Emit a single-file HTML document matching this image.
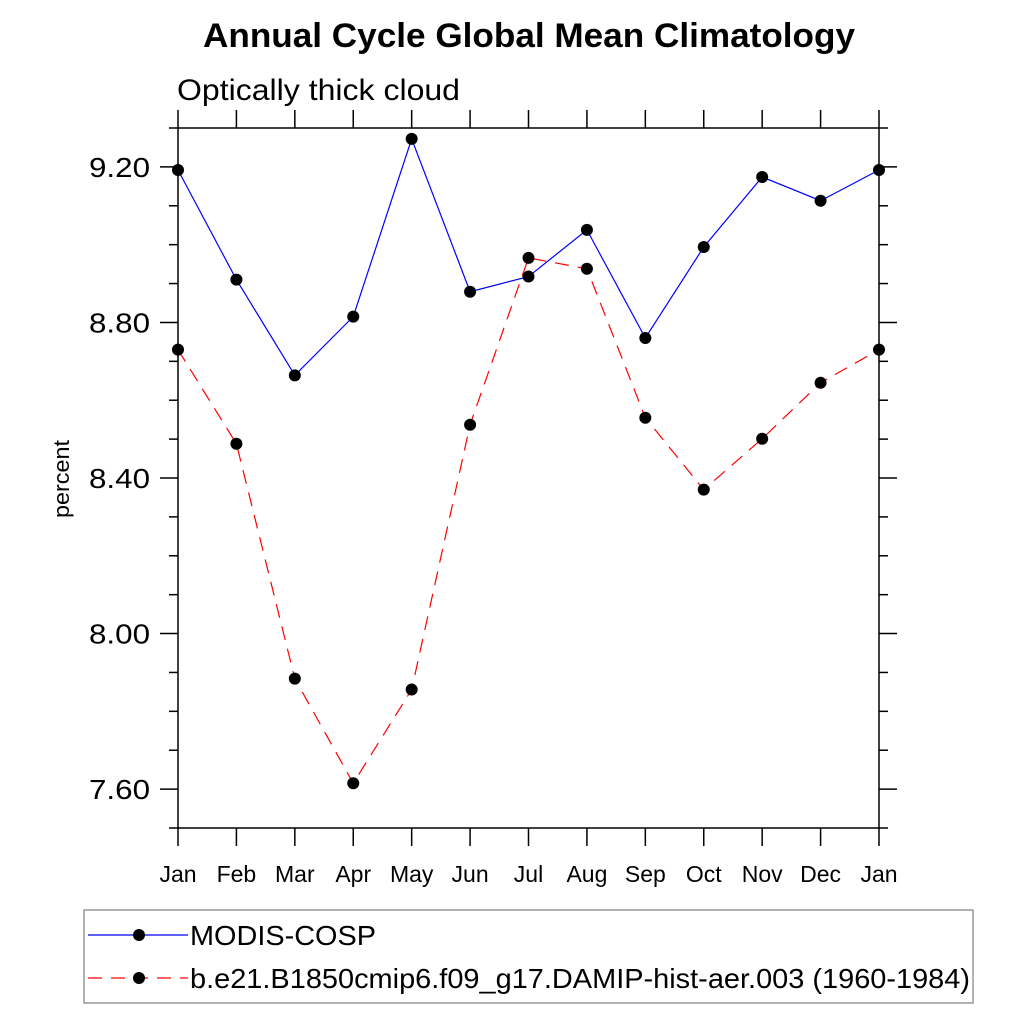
<!DOCTYPE html>
<html><head><meta charset="utf-8"><style>
body{margin:0;background:#fff}
svg{display:block;font-family:"Liberation Sans",Arial,sans-serif}
</style></head><body>
<svg id="chart" width="1024" height="1024" viewBox="0 0 1024 1024">
<text x="529" y="47" text-anchor="middle" font-size="34" font-weight="bold" textLength="652" lengthAdjust="spacingAndGlyphs">Annual Cycle Global Mean Climatology</text>
<text x="177" y="100" font-size="30" textLength="283" lengthAdjust="spacingAndGlyphs">Optically thick cloud</text>
<text transform="translate(69,479) rotate(-90)" text-anchor="middle" font-size="22" textLength="78" lengthAdjust="spacingAndGlyphs">percent</text>
<g id="axes"></g>
<g id="series"></g>
<rect x="84" y="910" width="889" height="93" fill="none" stroke="#999" stroke-width="1.5"/>
<g>
<line x1="88" y1="935" x2="188" y2="935" stroke="#0000ff" stroke-width="1.2"/>
<circle cx="139" cy="935" r="6" fill="#000"/>
<text x="190" y="945" font-size="28" textLength="186" lengthAdjust="spacingAndGlyphs">MODIS-COSP</text>
</g>
<g>
<line x1="88" y1="978" x2="188" y2="978" stroke="#ff0000" stroke-width="1.2" stroke-dasharray="14,9"/>
<circle cx="139" cy="978" r="6" fill="#000"/>
<text x="190" y="988" font-size="28" textLength="780" lengthAdjust="spacingAndGlyphs">b.e21.B1850cmip6.f09_g17.DAMIP-hist-aer.003 (1960-1984)</text>
</g>
</svg>
<script>
const months=["Jan","Feb","Mar","Apr","May","Jun","Jul","Aug","Sep","Oct","Nov","Dec","Jan"];
const modis=[9.192,8.910,8.664,8.815,9.272,8.879,8.918,9.038,8.760,8.994,9.174,9.113,9.192];
const model=[8.730,8.488,7.884,7.615,7.856,8.537,8.966,8.938,8.555,8.370,8.501,8.645,8.730];
const yTicks=[7.6,8.0,8.4,8.8,9.2];
const yTickLabels=["7.60","8.00","8.40","8.80","9.20"];
const NS="http://www.w3.org/2000/svg";
const L=178,R=879,T=128,B=828,YMIN=7.5,YMAX=9.3;
const xs=i=>L+i*(R-L)/(months.length-1);
const ys=v=>B-(v-YMIN)/(YMAX-YMIN)*(B-T);
function mk(tag,attrs,parent){const e=document.createElementNS(NS,tag);for(const k in attrs)e.setAttribute(k,attrs[k]);parent.appendChild(e);return e;}
const ax=document.getElementById('axes');
const frame=mk('rect',{x:L,y:T,width:R-L,height:B-T,fill:'none',stroke:'#000','stroke-width':1.5},ax);


months.forEach((m,i)=>{
  const x=xs(i);
  mk('line',{x1:x,y1:T,x2:x,y2:T-18,stroke:'#000','stroke-width':1.5},ax);
  mk('line',{x1:x,y1:B,x2:x,y2:B+18,stroke:'#000','stroke-width':1.5},ax);
  const t=mk('text',{x:x,y:882,'text-anchor':'middle','font-size':23},ax);
  t.textContent=m;
  
  
});
for(let v=7.5;v<=9.301;v+=0.1){
  const y=ys(v);
  const major=yTicks.some(t=>Math.abs(t-v)<1e-6);
  const len=major?18:9;
  mk('line',{x1:L,y1:y,x2:L-len,y2:y,stroke:'#000','stroke-width':1.5},ax);
  mk('line',{x1:R,y1:y,x2:R+len,y2:y,stroke:'#000','stroke-width':1.5},ax);
}
yTicks.forEach((v,i)=>{
  const t=mk('text',{x:150,y:ys(v)+10,'text-anchor':'end','font-size':28,textLength:61,lengthAdjust:'spacingAndGlyphs'},ax);
  t.textContent=yTickLabels[i];
  
  
});
const sg=document.getElementById('series');
function draw(vals,color,dash,name){
  const g=mk('g',{},sg);
  
  
  const p=mk('polyline',{points:vals.map((v,i)=>xs(i)+','+ys(v)).join(' '),fill:'none',stroke:color,'stroke-width':1.2},g);
  if(dash)p.setAttribute('stroke-dasharray',dash);
  vals.forEach((v,i)=>{
    const c=mk('circle',{cx:xs(i),cy:ys(v),r:6,fill:'#000'},g);
    
    
  });
}
draw(model,'#ff0000','14,9','model-series');
draw(modis,'#0000ff',null,'modis-series');
</script>
</body></html>
